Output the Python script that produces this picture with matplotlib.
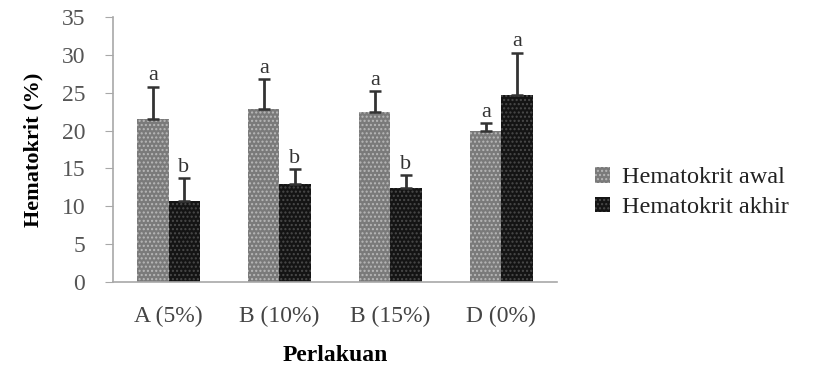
import matplotlib
matplotlib.use("Agg")
import matplotlib.pyplot as plt
import numpy as np

plt.rcParams['font.family'] = ['Liberation Serif', 'DejaVu Serif']
plt.rcParams['hatch.linewidth'] = 1.0

categories = ["A (5%)", "B (10%)", "B (15%)", "D (0%)"]
awal = [21.5, 22.8, 22.4, 19.9]
awal_err = [4.3, 4.0, 2.8, 1.1]
akhir = [10.7, 12.9, 12.4, 24.7]
akhir_err = [3.0, 2.0, 1.7, 5.6]
awal_letters = ["a", "a", "a", "a"]
akhir_letters = ["b", "b", "b", "a"]

fig = plt.figure(figsize=(8.19, 3.67), dpi=100)
ax = fig.add_axes([0.138, 0.2316, 0.542, 0.7221])

x = np.arange(len(categories))
w = 0.28
b1 = ax.bar(x - w / 2, awal, w, color='#7a7a7a', edgecolor='#b8b8b8',
            linewidth=0, hatch='....', label='Hematokrit awal')
b2 = ax.bar(x + w / 2, akhir, w, color='#141414', edgecolor='#4a4a4a',
            linewidth=0, hatch='....', label='Hematokrit akhir')

ax.errorbar(x - w / 2, awal, yerr=[np.zeros(len(awal)), awal_err], fmt='none',
            ecolor='#333333', elinewidth=2, capsize=4, capthick=1.8)
ax.errorbar(x + w / 2, akhir, yerr=[np.zeros(len(akhir)), akhir_err], fmt='none',
            ecolor='#333333', elinewidth=2, capsize=4, capthick=1.8)

for xi, v, e, t in zip(x - w / 2, awal, awal_err, awal_letters):
    ax.annotate(t, (xi, v + e), xytext=(0, 1), textcoords='offset points',
                ha='center', va='bottom', fontsize=16, color='#333333')
for xi, v, e, t in zip(x + w / 2, akhir, akhir_err, akhir_letters):
    ax.annotate(t, (xi, v + e), xytext=(0, 1), textcoords='offset points',
                ha='center', va='bottom', fontsize=16, color='#333333')

ax.set_xlim(-0.5, 3.5)
ax.set_ylim(0, 35)
ax.set_yticks(np.arange(0, 36, 5))
ax.set_xticks(x)
ax.set_xticklabels(categories)
ax.tick_params(axis='y', length=6, color='#a8a8a8', labelsize=17,
               labelcolor='#555555', pad=14)
ax.tick_params(axis='x', length=0, labelsize=17, labelcolor='#444444', pad=17)

for s in ['top', 'right']:
    ax.spines[s].set_visible(False)
for s in ['left', 'bottom']:
    ax.spines[s].set_color('#a8a8a8')
    ax.spines[s].set_linewidth(1.2)

ax.set_ylabel('Hematokrit (%)', fontsize=16, fontweight='bold', labelpad=13)
ax.set_xlabel('Perlakuan', fontsize=17, fontweight='bold', labelpad=13)

fig.legend(handles=[b1, b2], loc='center left', bbox_to_anchor=(0.70, 0.475),
           frameon=False, fontsize=17.5, handlelength=0.6, handleheight=0.6,
           handletextpad=0.5, labelspacing=0.35, labelcolor='#222222')

fig.savefig('out.png', dpi=100)
